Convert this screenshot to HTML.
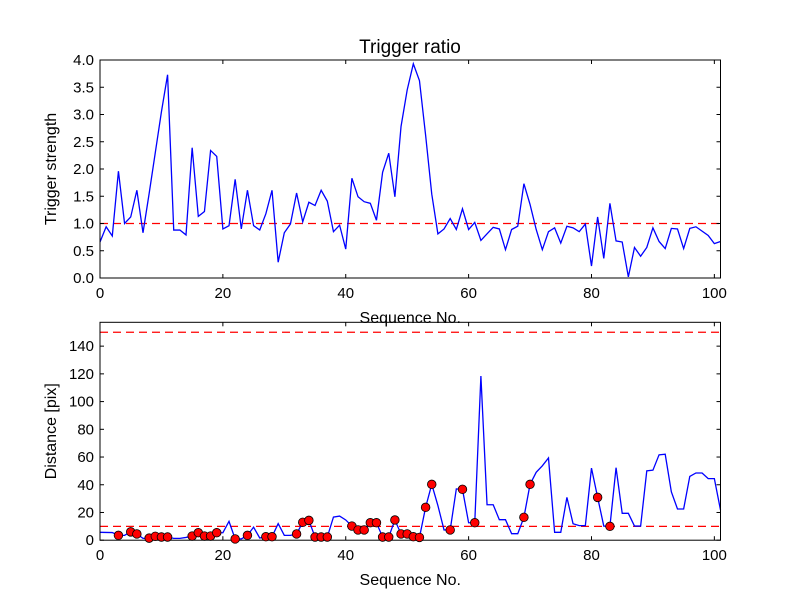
<!DOCTYPE html>
<html><head><meta charset="utf-8"><style>
body{margin:0;background:#fff;width:800px;height:600px;overflow:hidden}
svg text{font-family:"Liberation Sans",sans-serif;fill:#000}
</style></head><body>
<svg id="chart" width="800" height="600" xmlns="http://www.w3.org/2000/svg"></svg>
<script>
const strength=[0.66,0.94,0.77,1.96,1.0,1.12,1.61,0.83,1.55,2.3,3.05,3.73,0.88,0.88,0.79,2.39,1.13,1.22,2.34,2.23,0.9,0.96,1.81,0.9,1.61,0.96,0.88,1.18,1.61,0.29,0.83,0.99,1.56,1.03,1.39,1.33,1.61,1.41,0.85,0.97,0.53,1.83,1.49,1.40,1.37,1.06,1.94,2.29,1.49,2.78,3.45,3.93,3.62,2.62,1.54,0.81,0.9,1.09,0.89,1.27,0.89,1.02,0.69,0.81,0.93,0.9,0.52,0.89,0.95,1.73,1.35,0.89,0.52,0.85,0.92,0.64,0.95,0.92,0.85,0.99,0.22,1.12,0.36,1.37,0.68,0.66,0.02,0.56,0.4,0.56,0.92,0.67,0.54,0.91,0.9,0.54,0.91,0.94,0.86,0.78,0.63,0.67];
const distance=[5.7,5.6,5.5,3.5,3.5,6,4.5,1.3,1.5,2.8,2.3,2.3,1.3,1.3,2,3,5.4,3,3,5.4,5.4,13.6,0.9,0.9,3.5,9.4,1.6,2.5,2.5,12,3.5,3.5,4.5,12.9,14.3,2.3,2.3,2.3,16.7,17.4,14.6,10.2,7.4,7.4,12.6,12.6,2.3,2.3,14.6,4.5,4.5,2.5,2,23.7,40.3,25,7.4,7.4,37,36.7,12.6,12.6,118.4,25.6,25.6,14.8,14.8,4.7,4.7,16.5,40.3,49,53.7,59.3,5.7,5.7,30.9,11.9,10.5,10.5,52,30.9,10.2,10,52.3,19.4,19.4,10.2,10.2,50,50.5,61.6,62,34.9,22.5,22.5,46,48.5,48.5,44.4,44.4,21.8];
const markerIdx=[3,5,6,8,9,10,11,15,16,17,18,19,22,24,27,28,32,33,34,35,36,37,41,42,43,44,45,46,47,48,49,50,51,52,53,54,57,59,61,69,70,81,83];
const xTicks=[0,20,40,60,80,100];
const topYTicks=[0,0.5,1,1.5,2,2.5,3,3.5,4];
const botYTicks=[0,20,40,60,80,100,120,140];
const topThreshold=[1.0];
const botThresholds=[10,150];

const NS="http://www.w3.org/2000/svg";
const svg=document.getElementById('chart');
function el(t,a,p){const e=document.createElementNS(NS,t);for(const k in a)e.setAttribute(k,a[k]);(p||svg).appendChild(e);return e;}
const L=100,R=720.5,XMAX=101;
const xs=v=>L+v/XMAX*(R-L);
function panel(top,bot,ymax,ticks,fmt,data,thr,ylabel,name){
  const ys=v=>bot-v/ymax*(bot-top);
  const g=el('g',{});
  
  
  thr.forEach(t=>{const l=el('line',{x1:L,x2:R,y1:ys(t),y2:ys(t),stroke:'#ff0000','stroke-width':1.3,'stroke-dasharray':'8,5'},g);
    
    });
  const pl=el('polyline',{points:data.map((v,i)=>xs(i)+','+ys(v)).join(' '),fill:'none',stroke:'#0000ff','stroke-width':1.3},g);
  
  
  el('rect',{x:L,y:top,width:R-L,height:bot-top,fill:'none',stroke:'#000','stroke-width':1},g);
  xTicks.forEach(t=>{const x=xs(t);
    el('line',{x1:x,x2:x,y1:bot,y2:bot-4,stroke:'#000'},g);
    el('line',{x1:x,x2:x,y1:top,y2:top+4,stroke:'#000'},g);
    const tx=el('text',{x:x,y:bot+20,'text-anchor':'middle','font-size':15},g);tx.textContent=t;
    
    });
  ticks.forEach(t=>{const y=ys(t);
    el('line',{x1:L,x2:L+4,y1:y,y2:y,stroke:'#000'},g);
    el('line',{x1:R,x2:R-4,y1:y,y2:y,stroke:'#000'},g);
    const tx=el('text',{x:L-6,y:y+5,'text-anchor':'end','font-size':15},g);tx.textContent=fmt(t);
    
    });
  const xl=el('text',{x:(L+R)/2,y:bot+45,'text-anchor':'middle','font-size':16},g);xl.textContent='Sequence No.';
  
  
  const yl=el('text',{x:0,y:0,'text-anchor':'middle','font-size':16,transform:`translate(56,${(top+bot)/2}) rotate(-90)`},g);yl.textContent=ylabel;
  
  
  return ys;
}
panel(60,278,4,topYTicks,v=>v.toFixed(1),strength,topThreshold,'Trigger strength','top-panel');
const ysB=panel(322.3,540.2,157.2,botYTicks,v=>String(v),distance,botThresholds,'Distance [pix]','bottom-panel');
markerIdx.forEach(i=>{const c=el('circle',{cx:xs(i),cy:ysB(distance[i]),r:4.3,fill:'#ff0000',stroke:'#000','stroke-width':0.8});
  
  });
const t=el('text',{x:410,y:53,'text-anchor':'middle','font-size':19});t.textContent='Trigger ratio';


</script>
</body></html>
